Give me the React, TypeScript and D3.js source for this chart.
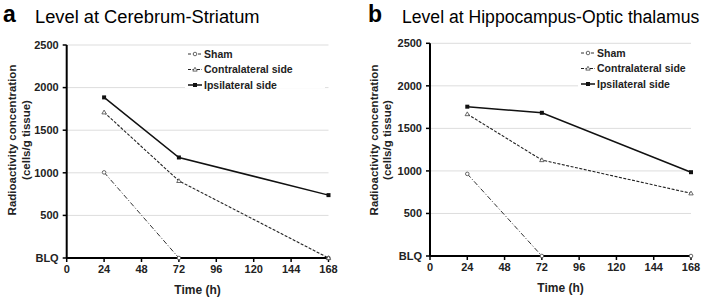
import React from "react";
import * as d3 from "d3";

const timesH = [24, 72, 168];
const xTicks = [0, 24, 48, 72, 96, 120, 144, 168];
const yTicks = [0, 500, 1000, 1500, 2000, 2500];
const yTickLabels = ["BLQ", "500", "1000", "1500", "2000", "2500"];
const seriesNames = ["Sham", "Contralateral side", "Ipsilateral side"];

const panelATitle = "Level at Cerebrum-Striatum";
const panelAsham = [1005, 0, 0];
const panelAcontra = [1710, 905, 0];
const panelAipsi = [1885, 1180, 738];

const panelBTitle = "Level at Hippocampus-Optic thalamus";
const panelBsham = [965, 0, 0];
const panelBcontra = [1668, 1128, 737];
const panelBipsi = [1755, 1683, 985];

type PanelProps = {
  letter: string;
  title: string;
  titleSize: number;
  letterX: number;
  titleX: number;
  lab1X: number;
  lab2X: number;
  x0: number;
  x1: number;
  y0: number;
  y1: number;
  legX: number;
  legY: number;
  sham: number[];
  contra: number[];
  ipsi: number[];
};

const font = "Arial, 'Liberation Sans', sans-serif";

function Marker({ kind, x, y }: { kind: number; x: number; y: number }) {
  if (kind === 0) return <circle cx={x} cy={y} r={1.8} fill="white" stroke="#444" strokeWidth={0.8} />;
  if (kind === 1)
    return (
      <path
        d={`M${x},${y - 2.2}L${x + 2.2},${y + 1.6}L${x - 2.2},${y + 1.6}Z`}
        fill="white"
        stroke="#444"
        strokeWidth={0.8}
      />
    );
  return <rect x={x - 2} y={y - 2} width={4} height={4} fill="#111" />;
}

const styles = [
  { dash: "5,2,1,2", width: 1, color: "#333" },
  { dash: "3,1.5", width: 1.1, color: "#222" },
  { dash: "", width: 1.5, color: "#111" },
];

function Panel(p: PanelProps) {
  const x = d3.scaleLinear().domain([0, 168]).range([p.x0, p.x1]);
  const y = d3.scaleLinear().domain([0, 2500]).range([p.y0, p.y1]);
  const line = d3
    .line<number>()
    .x((_, i) => x(timesH[i]))
    .y((d) => y(d));
  const data = [p.sham, p.contra, p.ipsi];
  const midY = 140;
  return (
    <g>
      <text x={p.letterX} y={22} fontFamily={font} fontWeight="bold" fontSize={23}>
        {p.letter}
      </text>
      <text x={p.titleX} y={23} fontFamily={font} fontSize={p.titleSize}>
        {p.title}
      </text>
      {yTicks.slice(1).map((t) => (
        <line key={t} x1={p.x0} x2={p.x1} y1={y(t)} y2={y(t)} stroke="#ddd" strokeWidth={1} />
      ))}
      {data.map((d, k) => (
        <path
          key={k}
          d={line(d) || ""}
          fill="none"
          stroke={styles[k].color}
          strokeWidth={styles[k].width}
          strokeDasharray={styles[k].dash}
        />
      ))}
      <line x1={p.x0} x2={p.x0} y1={p.y1} y2={p.y0} stroke="#000" strokeWidth={2} />
      <line x1={p.x0} x2={p.x1} y1={p.y0} y2={p.y0} stroke="#000" strokeWidth={2} />
      {yTicks.map((t, i) => (
        <g key={t}>
          <line x1={p.x0 - 4} x2={p.x0} y1={y(t)} y2={y(t)} stroke="#000" strokeWidth={1.5} />
          <text
            x={p.x0 - 8}
            y={y(t)}
            dy="0.35em"
            textAnchor="end"
            fontFamily={font}
            fontWeight="bold"
            fontSize={11}
            fill="#222"
          >
            {yTickLabels[i]}
          </text>
        </g>
      ))}
      {xTicks.map((t) => (
        <g key={t}>
          <line x1={x(t)} x2={x(t)} y1={p.y0} y2={p.y0 + 4} stroke="#000" strokeWidth={1.5} />
          <text
            x={x(t)}
            y={p.y0 + 15}
            textAnchor="middle"
            fontFamily={font}
            fontWeight="bold"
            fontSize={11}
            fill="#222"
          >
            {t}
          </text>
        </g>
      ))}
      <text
        x={(p.x0 + p.x1) / 2}
        y={p.y0 + 36}
        textAnchor="middle"
        fontFamily={font}
        fontWeight="bold"
        fontSize={12}
        fill="#222"
      >
        Time (h)
      </text>
      <text
        transform={`translate(${p.lab1X},${midY}) rotate(-90)`}
        textAnchor="middle"
        fontFamily={font}
        fontWeight="bold"
        fontSize={11.5}
        fill="#222"
      >
        Radioactivity concentration
      </text>
      <text
        transform={`translate(${p.lab2X},${midY}) rotate(-90)`}
        textAnchor="middle"
        fontFamily={font}
        fontWeight="bold"
        fontSize={11.5}
        fill="#222"
      >
        (cells/g tissue)
      </text>
      {data.map((d, k) =>
        d.map((v, i) => <Marker key={`${k}-${i}`} kind={k} x={x(timesH[i])} y={y(v)} />)
      )}
      <rect x={p.legX - 3} y={p.legY - 8} width={140} height={42} fill="white" />
      {seriesNames.map((n, k) => (
        <g key={n}>
          <line
            x1={p.legX}
            x2={p.legX + 14}
            y1={p.legY + k * 15.5}
            y2={p.legY + k * 15.5}
            stroke={styles[k].color}
            strokeWidth={styles[k].width}
            strokeDasharray={k === 0 ? "3,2" : styles[k].dash}
          />
          <Marker kind={k} x={p.legX + 7} y={p.legY + k * 15.5} />
          <text
            x={p.legX + 16}
            y={p.legY + k * 15.5}
            dy="0.35em"
            fontFamily={font}
            fontWeight="bold"
            fontSize={10.5}
            fill="#222"
          >
            {n}
          </text>
        </g>
      ))}
    </g>
  );
}

export default function App() {
  return (
    <svg
      width={707}
      height={300}
      style={{ position: "absolute", left: 0, top: 0, background: "white" }}
    >
      <rect width={707} height={300} fill="white" />
      <Panel
        letter="a"
        title={panelATitle}
        titleSize={18.3}
        letterX={3}
        titleX={35}
        lab1X={16}
        lab2X={30}
        x0={66.7}
        x1={328.5}
        y0={258}
        y1={45}
        legX={188}
        legY={54}
        sham={panelAsham}
        contra={panelAcontra}
        ipsi={panelAipsi}
      />
      <Panel
        letter="b"
        title={panelBTitle}
        titleSize={17.6}
        letterX={368}
        titleX={402}
        lab1X={378}
        lab2X={391}
        x0={430}
        x1={691}
        y0={256}
        y1={43.3}
        legX={581}
        legY={53}
        sham={panelBsham}
        contra={panelBcontra}
        ipsi={panelBipsi}
      />
    </svg>
  );
}
